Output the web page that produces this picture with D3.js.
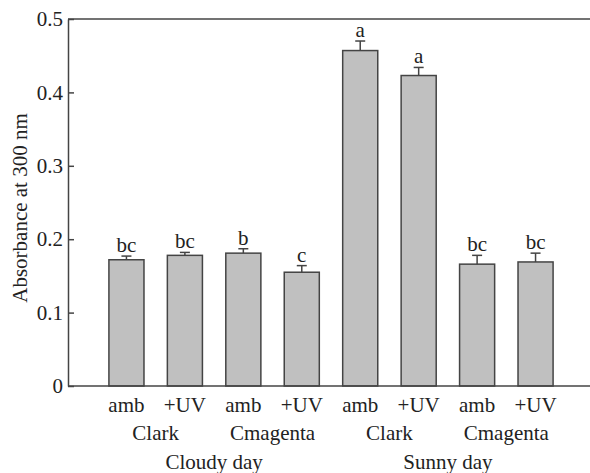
<!DOCTYPE html>
<html lang="en">
  <head>
    <meta charset="utf-8">
    <title>Absorbance at 300 nm</title>
    <script src="https://d3js.org/d3.v7.min.js"></script>
  </head>
  <body style="margin:0; background:#fff">
    <script type="text/javascript">

      var w = 590;
      var h = 473;
      var serif = "'Liberation Serif', serif";

      // data
      var days = ["Cloudy day", "Sunny day"];
      var cultivars = ["Clark", "Cmagenta"];
      var treatments = ["amb", "+UV"];
      var means = [0.172, 0.178, 0.181, 0.155, 0.457, 0.423, 0.166, 0.169];
      var errors = [0.005, 0.004, 0.006, 0.009, 0.013, 0.011, 0.012, 0.012];
      var letters = ["bc", "bc", "b", "c", "a", "a", "bc", "bc"];
      var yTicks = [0, 0.1, 0.2, 0.3, 0.4, 0.5];

      var margin = {top: 19, left: 68, bottom: 87};
      var y0 = h - margin.bottom;

      // one row per bar, built from the arrays above
      var bars = [];
      days.forEach(function(d, di) {
        cultivars.forEach(function(c, ci) {
          treatments.forEach(function(t, ti) {
            var i = di * 4 + ci * 2 + ti;
            bars.push({id: i, day: d, cultivar: c, treatment: t,
                       mean: means[i], err: errors[i], letter: letters[i]});
          });
        });
      });

      var svg = d3.select("body")
          .append("svg")
          .attr("width", w)
          .attr("height", h);

      var xscale = d3.scaleBand()
          .domain(bars.map(d => d.id))
          .range([margin.left, 594])
          .paddingInner(0.4)
          .paddingOuter(0.7);

      var yscale = d3.scaleLinear()
          .domain([0, 0.5])
          .range([y0, margin.top]);

      var y_axis = d3.axisLeft(yscale)
          .tickValues(yTicks)
          .tickFormat(d => d === 0 ? "0" : d3.format(".1f")(d))
          .tickSizeInner(-6)
          .tickSizeOuter(0)
          .tickPadding(5);

      var gy = svg.append("g")
          .attr("transform", "translate(" + margin.left + ",0)")
          .call(y_axis);
      gy.selectAll("path, line").attr("stroke", "#444").attr("stroke-width", 1.5);
      gy.selectAll("text")
          .attr("font-size", 21)
          .attr("fill", "#222")
          .style("font-family", serif);

      // top frame line
      svg.append("line")
          .attr("x1", margin.left).attr("x2", w)
          .attr("y1", yscale(0.5)).attr("y2", yscale(0.5))
          .attr("stroke", "#444").attr("stroke-width", 1.5);

      svg.append("text")
          .attr("transform", "translate(20," + 208 + ") rotate(-90)")
          .attr("text-anchor", "middle")
          .attr("dy", "0.35em")
          .attr("font-size", 21)
          .style("font-family", serif)
          .attr("fill", "#222")
          .text("Absorbance at 300 nm");

      svg.selectAll("rect.bar")
          .data(bars)
          .enter()
          .append("rect")
          .attr("class", "bar")
          .attr("x", d => xscale(d.id))
          .attr("y", d => yscale(d.mean))
          .attr("width", xscale.bandwidth())
          .attr("height", d => y0 - yscale(d.mean))
          .attr("fill", "#c0c0c0")
          .attr("stroke", "#444")
          .attr("stroke-width", 1.5);

      svg.append("line")
          .attr("x1", margin.left).attr("x2", w)
          .attr("y1", y0).attr("y2", y0)
          .attr("stroke", "#444").attr("stroke-width", 1.5);

      var cx = d => xscale(d.id) + xscale.bandwidth() / 2;

      // upper error bars
      svg.selectAll("line.err")
          .data(bars)
          .enter()
          .append("line")
          .attr("class", "err")
          .attr("x1", cx).attr("x2", cx)
          .attr("y1", d => yscale(d.mean))
          .attr("y2", d => yscale(d.mean + d.err))
          .attr("stroke", "#444").attr("stroke-width", 1.5);

      svg.selectAll("line.cap")
          .data(bars)
          .enter()
          .append("line")
          .attr("class", "cap")
          .attr("x1", d => cx(d) - 5).attr("x2", d => cx(d) + 5)
          .attr("y1", d => yscale(d.mean + d.err))
          .attr("y2", d => yscale(d.mean + d.err))
          .attr("stroke", "#444").attr("stroke-width", 1.5);

      function label(sel, size) {
        return sel.attr("text-anchor", "middle")
            .attr("font-size", size)
            .attr("fill", "#222")
            .style("font-family", serif);
      }

      svg.selectAll("text.letter")
          .data(bars)
          .enter()
          .append("text")
          .attr("class", "letter")
          .attr("x", cx)
          .attr("y", d => yscale(d.mean + d.err) - 4)
          .call(label, 21)
          .text(d => d.letter);

      // treatment row
      svg.selectAll("text.treat")
          .data(bars)
          .enter()
          .append("text")
          .attr("class", "treat")
          .attr("x", cx)
          .attr("y", 412)
          .call(label, 21)
          .text(d => d.treatment);

      // cultivar row
      var pairs = d3.groups(bars, d => d.day + "|" + d.cultivar);
      svg.selectAll("text.cult")
          .data(pairs)
          .enter()
          .append("text")
          .attr("class", "cult")
          .attr("x", p => d3.mean(p[1], cx))
          .attr("y", 440)
          .call(label, 21)
          .text(p => p[1][0].cultivar);

      // day row
      var groups = d3.groups(bars, d => d.day);
      svg.selectAll("text.day")
          .data(groups)
          .enter()
          .append("text")
          .attr("class", "day")
          .attr("x", g => d3.mean(g[1], cx))
          .attr("y", 469)
          .call(label, 21)
          .text(g => g[0]);

    </script>
  </body>
</html>
